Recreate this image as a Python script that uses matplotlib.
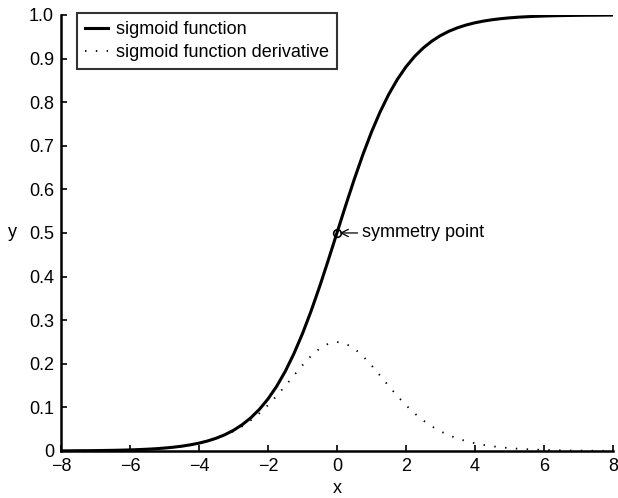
import matplotlib
matplotlib.use('Agg')
import matplotlib.pyplot as plt

plt.rcParams['font.family'] = ['Liberation Sans', 'DejaVu Sans']

# values, x from -8 to 8 in steps of 0.25
x_vals = [-8.0, -7.75, -7.5, -7.25, -7.0, -6.75, -6.5, -6.25, -6.0, -5.75, -5.5,
          -5.25, -5.0, -4.75, -4.5, -4.25, -4.0, -3.75, -3.5, -3.25, -3.0,
          -2.75, -2.5, -2.25, -2.0, -1.75, -1.5, -1.25, -1.0, -0.75, -0.5,
          -0.25, 0.0, 0.25, 0.5, 0.75, 1.0, 1.25, 1.5, 1.75, 2.0, 2.25, 2.5,
          2.75, 3.0, 3.25, 3.5, 3.75, 4.0, 4.25, 4.5, 4.75, 5.0, 5.25, 5.5,
          5.75, 6.0, 6.25, 6.5, 6.75, 7.0, 7.25, 7.5, 7.75, 8.0]

sigmoid = [0.0003, 0.0004, 0.0006, 0.0007, 0.0009, 0.0012, 0.0015, 0.0019,
           0.0025, 0.0032, 0.0041, 0.0052, 0.0067, 0.0086, 0.0110, 0.0141,
           0.0180, 0.0230, 0.0293, 0.0373, 0.0474, 0.0601, 0.0759, 0.0953,
           0.1192, 0.1480, 0.1824, 0.2227, 0.2689, 0.3208, 0.3775, 0.4378,
           0.5000, 0.5622, 0.6225, 0.6792, 0.7311, 0.7773, 0.8176, 0.8520,
           0.8808, 0.9047, 0.9241, 0.9399, 0.9526, 0.9627, 0.9707, 0.9770,
           0.9820, 0.9859, 0.9890, 0.9914, 0.9933, 0.9948, 0.9959, 0.9968,
           0.9975, 0.9981, 0.9985, 0.9988, 0.9991, 0.9993, 0.9994, 0.9996,
           0.9997]

derivative = [0.0003, 0.0004, 0.0006, 0.0007, 0.0009, 0.0012, 0.0015, 0.0019,
              0.0025, 0.0032, 0.0041, 0.0052, 0.0066, 0.0085, 0.0109, 0.0139,
              0.0177, 0.0225, 0.0285, 0.0359, 0.0452, 0.0565, 0.0701, 0.0863,
              0.1050, 0.1261, 0.1491, 0.1731, 0.1966, 0.2179, 0.2350, 0.2461,
              0.2500, 0.2461, 0.2350, 0.2179, 0.1966, 0.1731, 0.1491, 0.1261,
              0.1050, 0.0863, 0.0701, 0.0565, 0.0452, 0.0359, 0.0285, 0.0225,
              0.0177, 0.0139, 0.0109, 0.0085, 0.0066, 0.0052, 0.0041, 0.0032,
              0.0025, 0.0019, 0.0015, 0.0012, 0.0009, 0.0007, 0.0006, 0.0004,
              0.0003]

sym_x, sym_y = 0.0, 0.5

x_ticks = [-8, -6, -4, -2, 0, 2, 4, 6, 8]
y_ticks = [0, 0.1, 0.2, 0.3, 0.4, 0.5, 0.6, 0.7, 0.8, 0.9, 1.0]
y_labels = ['0', '0.1', '0.2', '0.3', '0.4', '0.5', '0.6', '0.7', '0.8', '0.9', '1.0']

fig = plt.figure(figsize=(6.18, 4.98), dpi=100)
ax = fig.add_axes([0.0987, 0.0944, 0.893, 0.8756])

ax.plot(x_vals, sigmoid, color='black', lw=2.2, label='sigmoid function')
ax.plot(x_vals, derivative, color='black', lw=1.3, linestyle=(0, (0.8, 5.2)),
        label='sigmoid function derivative')
ax.plot([sym_x], [sym_y], 'o', mfc='none', mec='black', ms=5.5, mew=1.2)
ax.annotate('symmetry point', xy=(sym_x + 0.04, sym_y), xytext=(sym_x + 0.72, sym_y),
            fontsize=13, va='center', ha='left',
            arrowprops=dict(arrowstyle='->', color='black', lw=0.9,
                            shrinkA=1, shrinkB=1))

ax.set_xlim(-8, 8)
ax.set_ylim(0, 1)
ax.set_xticks(x_ticks)
ax.set_xticklabels([str(t).replace('-', '\u2212') for t in x_ticks])
ax.set_yticks(y_ticks)
ax.set_yticklabels(y_labels)
ax.tick_params(direction='in', length=4, width=1.2, labelsize=13)
ax.tick_params(axis='x', pad=5)
ax.tick_params(axis='y', pad=5)
ax.spines['top'].set_visible(False)
ax.spines['right'].set_visible(False)
ax.spines['left'].set_linewidth(1.8)
ax.spines['bottom'].set_linewidth(1.8)

ax.set_xlabel('x', fontsize=13, labelpad=4)
ax.set_ylabel('y', fontsize=13, rotation=0, labelpad=12, va='center')

leg = ax.legend(loc='upper left', bbox_to_anchor=(0.029, 1.005), fontsize=13,
                frameon=True, fancybox=False, borderaxespad=0.0,
                handlelength=1.25, handletextpad=0.45, borderpad=0.45,
                labelspacing=0.35)
leg.get_frame().set_edgecolor('black')
leg.get_frame().set_linewidth(1.5)

fig.savefig('out.png', dpi=100)
